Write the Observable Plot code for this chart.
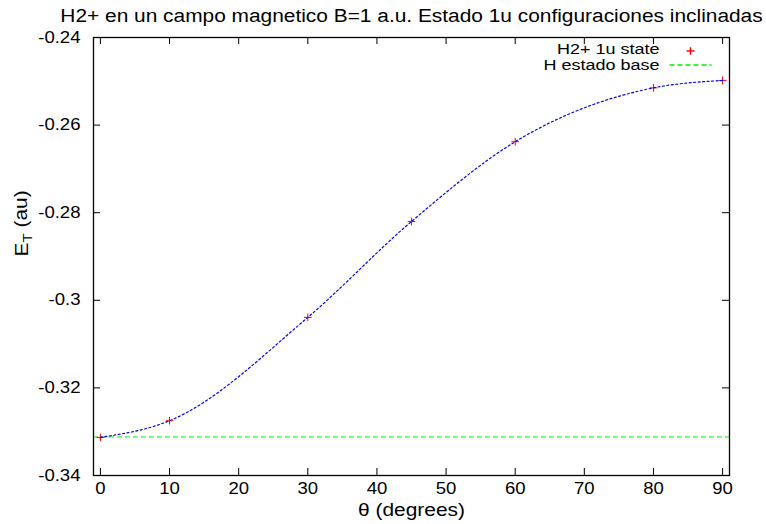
<!DOCTYPE html>
<html><head><meta charset="utf-8">
<script src="https://cdn.jsdelivr.net/npm/d3@7"></script>
<script src="https://cdn.jsdelivr.net/npm/@observablehq/plot@0.6"></script>
<style>body{margin:0;background:#fff}</style>
</head><body><div id="chart"></div>
<script>
const theta = [0, 10, 30, 45, 60, 80, 90];
const energy = [-0.3313, -0.3275, -0.3039, -0.2820, -0.2638, -0.2515, -0.2498];
const hBase = -0.3312;
const xTicks = [0, 10, 20, 30, 40, 50, 60, 70, 80, 90];
const yTicks = [-0.34, -0.32, -0.30, -0.28, -0.26, -0.24];
const titleText = "H2+ en un campo magnetico B=1 a.u. Estado 1u configuraciones inclinadas";
const xLabel = "θ (degrees)";
const yLabel = "E_T (au)";
const legendLabels = ["H2+ 1u state", "H estado base"];

const data = theta.map((t, i) => ({theta: t, energy: energy[i]}));
const fmtY = d => String(+d.toFixed(2));

const W = 766, H = 524, mL = 93, mR = 37, mT = 37, mB = 49;
const fh = H - mT - mB, fw = W - mL - mR, tk = 7;
const green = "#00ee00";
const stretch = 1.16;
const legendLine = {draw(ctx) { ctx.moveTo(-21, 0); ctx.lineTo(21, 0); }};

const chart = Plot.plot({
  width: W, height: H,
  marginLeft: mL, marginRight: mR, marginTop: mT, marginBottom: mB,
  style: {fontFamily: "'Liberation Sans', Arial, sans-serif", fontSize: "16px", background: "#fff", color: "#000"},
  x: {domain: [-1, 91]},
  y: {domain: [-0.34, -0.24]},
  marks: [
    Plot.ruleY([hBase], {stroke: green, strokeDasharray: "5,3", strokeWidth: 1}),
    Plot.dot(data, {x: "theta", y: "energy", symbol: "plus", stroke: "#ff0000", r: 2.6, strokeWidth: 1}),
    Plot.line(data, {x: "theta", y: "energy", curve: "monotone-x", stroke: "#0000ff", strokeDasharray: "2,2.5", strokeWidth: 1.2}),
    Plot.tickX(xTicks, {x: d => d, insetTop: fh - tk, stroke: "#000"}),
    Plot.tickX(xTicks, {x: d => d, insetBottom: fh - tk, stroke: "#000"}),
    Plot.tickY(yTicks, {y: d => d, insetRight: fw - tk, stroke: "#000"}),
    Plot.tickY(yTicks, {y: d => d, insetLeft: fw - tk, stroke: "#000"}),
    Plot.axisX(xTicks, {tickSize: 0, tickPadding: 7, label: null, fontSize: 16}),
    Plot.axisY(yTicks, {tickSize: 0, tickPadding: 13, tickFormat: fmtY, label: null, fontSize: 16}),
    Plot.frame({stroke: "#000", strokeWidth: 1.3}),
    Plot.text([titleText], {frameAnchor: "top", lineAnchor: "middle", dy: -21, fontSize: 18}),
    Plot.text([xLabel], {frameAnchor: "bottom", lineAnchor: "middle", dy: 35, fontSize: 18}),
    Plot.text([yLabel], {frameAnchor: "left", lineAnchor: "middle", dx: -71, rotate: -90, fontSize: 18}),
    Plot.text([legendLabels[0]], {frameAnchor: "top-right", lineAnchor: "middle", dx: -70, dy: 12, textAnchor: "end", fontSize: 15.5}),
    Plot.text([legendLabels[1]], {frameAnchor: "top-right", lineAnchor: "middle", dx: -70, dy: 28, textAnchor: "end", fontSize: 15.5}),
    Plot.dot([legendLabels[0]], {frameAnchor: "top-right", dx: -39, dy: 13.5, symbol: "plus", stroke: "#ff0000", r: 2.6}),
    Plot.dot([legendLabels[1]], {frameAnchor: "top-right", dx: -39, dy: 27.5, symbol: legendLine, stroke: green, fill: "none", strokeDasharray: "5,3"})
  ]
});

d3.select(chart).selectAll("text").filter(function() { return this.textContent === yLabel; })
  .each(function() {
    const t = d3.select(this);
    t.text(null);
    t.append("tspan").text("E");
    t.append("tspan").attr("dy", "0.3em").attr("font-size", "13px").text("T");
    t.append("tspan").attr("dy", "-0.3em").text(" (au)");
  });

document.getElementById("chart").appendChild(chart);

// the reference font is slightly wider than Liberation Sans: stretch glyphs horizontally
d3.select(chart).selectAll("text").each(function() {
  const len = this.getComputedTextLength();
  if (len > 0) {
    this.setAttribute("textLength", (len * stretch).toFixed(1));
    this.setAttribute("lengthAdjust", "spacingAndGlyphs");
  }
});
</script>
</body></html>
